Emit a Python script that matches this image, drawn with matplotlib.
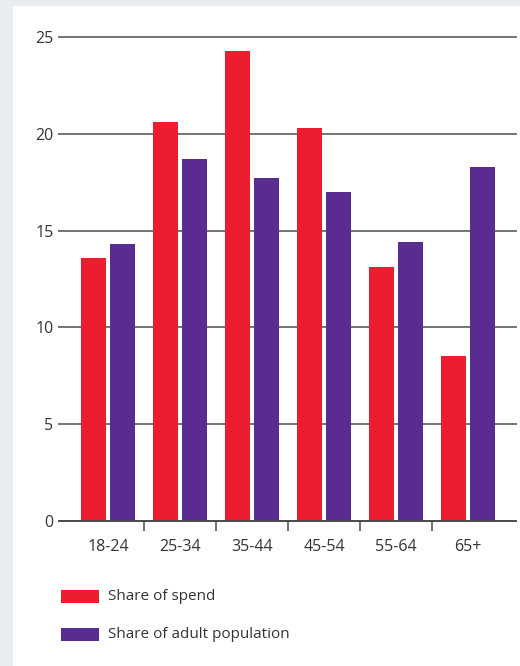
import matplotlib
matplotlib.use("Agg")
import matplotlib.pyplot as plt
from matplotlib.patches import Rectangle
import numpy as np

categories = ["18-24", "25-34", "35-44", "45-54", "55-64", "65+"]
share_of_spend = [13.6, 20.6, 24.3, 20.3, 13.1, 8.5]
share_of_population = [14.3, 18.7, 17.7, 17.0, 14.4, 18.3]
series_labels = ["Share of spend", "Share of adult population"]
y_ticks = [0, 5, 10, 15, 20, 25]

RED = "#ed1c2e"
PURPLE = "#5b2c8f"
BG = "#e8edf0"
TXT = "#333333"

plt.rcParams["font.family"] = ["Open Sans", "DejaVu Sans"]

W, H = 520, 666
fig = plt.figure(figsize=(W / 100, H / 100), dpi=100, facecolor=BG)
fig.patches.append(Rectangle((13 / W, 0), 1 - 13 / W, (H - 6) / H,
                             transform=fig.transFigure, facecolor="white",
                             edgecolor="none", zorder=-10))

ax = fig.add_axes([59 / W, (H - 521) / H, (516 - 59) / W, (521 - 37) / H])
ax.set_facecolor("none")
x = np.arange(len(categories))
bw = 25 / 72
off = 14.5 / 72
ax.bar(x - off, share_of_spend, width=bw, color=RED, zorder=3)
ax.bar(x + off, share_of_population, width=bw, color=PURPLE, zorder=3)

ax.set_xlim((59 - 108) / 72, (516 - 108) / 72)
ax.set_ylim(0, 25)
ax.set_yticks(y_ticks)
ax.set_yticklabels([str(t) for t in y_ticks])
for t in y_ticks[1:]:
    ax.axhline(t, color="#747474", lw=1.4, zorder=1, clip_on=False)
ax.axhline(0, color="#4a4a4a", lw=1.4, zorder=4, clip_on=False)

ax.set_xticks(x)
ax.set_xticklabels(categories)
ax.set_xticks(x[:-1] + 0.5, minor=True)
ax.tick_params(axis="x", which="major", length=0, pad=13, labelsize=11.5, labelcolor=TXT)
ax.tick_params(axis="x", which="minor", length=7.5, width=1.1, color="#4a4a4a", direction="out")
ax.tick_params(axis="y", length=0, pad=4, labelsize=11.5, labelcolor=TXT)
for s in ax.spines.values():
    s.set_visible(False)

# legend
for i, (lab, col) in enumerate(zip(series_labels, [RED, PURPLE])):
    y0 = 590 + i * 38
    fig.patches.append(Rectangle((61 / W, (H - y0 - 13) / H), 38 / W, 13 / H,
                                 transform=fig.transFigure, facecolor=col,
                                 edgecolor="none"))
    fig.text(108 / W, (H - y0 - 6.5) / H, lab, fontsize=11, color=TXT,
             va="center", ha="left")

fig.savefig("out.png", dpi=100, facecolor=BG)
